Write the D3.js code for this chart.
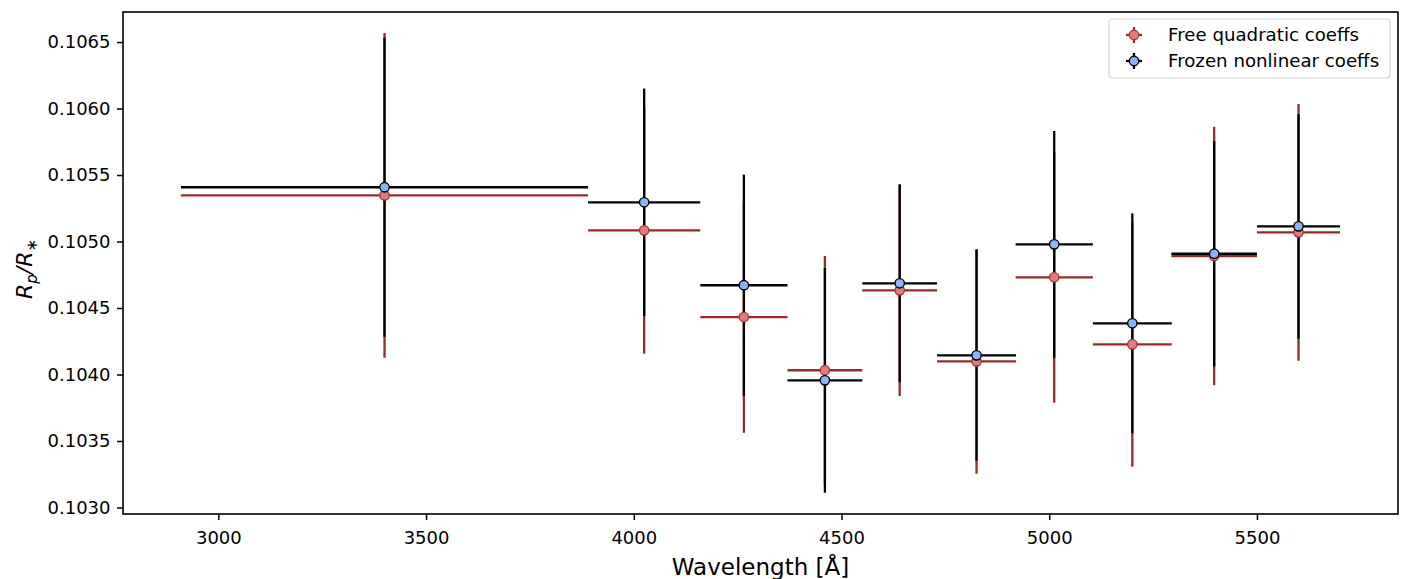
<!DOCTYPE html>
<html>
<head>
<meta charset="utf-8">
<script src="https://cdn.jsdelivr.net/npm/d3@7"></script>
<style>
  body { margin: 0; background: #fff; }
  svg text { font-family: "DejaVu Sans", sans-serif; fill: #000; }
</style>
</head>
<body>
<svg id="chart" width="1406" height="579"></svg>
<script>
// Bin centres and half widths (Angstrom)
const wave = [3400, 4025, 4265, 4460, 4640, 4825, 5012, 5200, 5397, 5600];
const waveErr = [490, 135, 105, 90, 90, 95, 93, 95, 103, 100];

// Free quadratic limb darkening coefficients
const freeRp = [0.105347, 0.105084, 0.104432, 0.104032, 0.104633, 0.104099, 0.104731, 0.104227, 0.104891, 0.105069];
const freeErr = [0.001221, 0.000928, 0.00087, 0.000859, 0.000795, 0.000845, 0.000943, 0.00092, 0.000972, 0.000965];

// Frozen nonlinear limb darkening coefficients
const frozenRp = [0.105408, 0.105295, 0.104671, 0.103956, 0.104686, 0.104144, 0.104979, 0.104385, 0.104908, 0.105114];
const frozenErr = [0.001124, 0.000855, 0.000832, 0.000845, 0.000744, 0.000792, 0.000852, 0.000827, 0.000847, 0.000844];

const xTicks = [3000, 3500, 4000, 4500, 5000, 5500];
const yTicks = [0.1030, 0.1035, 0.1040, 0.1045, 0.1050, 0.1055, 0.1060, 0.1065];

const series = [
    {name: 'Free quadratic coeffs', y: freeRp, err: freeErr, line: '#952b2b', face: '#e07c7c', edge: '#a83838'},
    {name: 'Frozen nonlinear coeffs', y: frozenRp, err: frozenErr, line: '#000000', face: '#8ab4f7', edge: '#000000'}
];

let margin = {left: 123, right: 8, top: 12, bottom: 65},
    width = 1406 - margin.left - margin.right,
    height = 579 - margin.top - margin.bottom;

let svg = d3.select('#chart'),
    g = svg.append('g').attr('transform', `translate(${margin.left},${margin.top})`);

let x = d3.scaleLinear().domain([2770.5, 5839.5]).range([0, width]);
let y = d3.scaleLinear().domain([0.102951, 0.106726]).range([height, 0]);

// Axes
let xAxis = g.append('g')
    .attr('transform', `translate(0,${height})`)
    .call(d3.axisBottom(x).tickValues(xTicks).tickSize(6).tickPadding(11).tickFormat(d3.format('d')));
let yAxis = g.append('g')
    .call(d3.axisLeft(y).tickValues(yTicks).tickSize(6).tickPadding(6.5).tickFormat(d3.format('.4f')));
[xAxis, yAxis].forEach((a) => {
    a.select('.domain').remove();
    a.selectAll('.tick line').attr('stroke', '#000').attr('stroke-width', 1.5);
    a.selectAll('.tick text').style('font-size', '18px');
});

// Error bars: lines of every series first, then markers
series.forEach((s) => {
    let eg = g.append('g');
    eg.selectAll('line.h')
        .data(wave)
        .enter().append('line')
        .attr('x1', (d, i) => x(d - waveErr[i]))
        .attr('x2', (d, i) => x(d + waveErr[i]))
        .attr('y1', (d, i) => y(s.y[i]))
        .attr('y2', (d, i) => y(s.y[i]))
        .attr('stroke', s.line).attr('stroke-width', 2.3);
    eg.selectAll('line.v')
        .data(wave)
        .enter().append('line')
        .attr('x1', (d) => x(d))
        .attr('x2', (d) => x(d))
        .attr('y1', (d, i) => y(s.y[i] - s.err[i]))
        .attr('y2', (d, i) => y(s.y[i] + s.err[i]))
        .attr('stroke', s.line).attr('stroke-width', 2.3);
});
series.forEach((s) => {
    g.append('g').selectAll('circle')
        .data(wave)
        .enter().append('circle')
        .attr('cx', (d) => x(d))
        .attr('cy', (d, i) => y(s.y[i]))
        .attr('r', 4.7)
        .attr('fill', s.face)
        .attr('stroke', s.edge)
        .attr('stroke-width', 1.4);
});

// Frame
g.append('rect')
    .attr('width', width).attr('height', height)
    .attr('fill', 'none').attr('stroke', '#000').attr('stroke-width', 1.6);

// Axis labels
svg.append('text')
    .attr('x', margin.left + width / 2)
    .attr('y', 575)
    .attr('text-anchor', 'middle')
    .style('font-size', '23px')
    .text('Wavelength [Å]');

let yl = svg.append('text')
    .attr('transform', `translate(32,${margin.top + height / 2 + 6}) rotate(-90)`)
    .attr('text-anchor', 'middle')
    .style('font-size', '22px')
    .style('font-style', 'italic');
yl.append('tspan').text('R');
yl.append('tspan').attr('dy', 5).style('font-size', '15px').text('p');
yl.append('tspan').attr('dy', -5).text('/R');
yl.append('tspan').attr('dy', 5).style('font-size', '15px').style('font-style', 'normal').text('∗');

// Legend
let lg = g.append('g').attr('transform', `translate(${width - 289},7)`);
lg.append('rect')
    .attr('width', 281).attr('height', 59).attr('rx', 3)
    .attr('fill', '#fff').attr('stroke', '#d6d6d6').attr('stroke-width', 1.2);
series.forEach((s, i) => {
    let cy = 16 + i * 26, cx = 25;
    let row = lg.append('g');
    row.append('line').attr('x1', cx - 8).attr('x2', cx + 8).attr('y1', cy).attr('y2', cy)
        .attr('stroke', s.line).attr('stroke-width', 2.3);
    row.append('line').attr('x1', cx).attr('x2', cx).attr('y1', cy - 8).attr('y2', cy + 8)
        .attr('stroke', s.line).attr('stroke-width', 2.3);
    row.append('circle').attr('cx', cx).attr('cy', cy).attr('r', 4.7)
        .attr('fill', s.face).attr('stroke', s.edge).attr('stroke-width', 1.4);
    row.append('text').attr('x', 59).attr('y', cy + 6)
        .style('font-size', '18.2px').text(s.name);
});
</script>
</body>
</html>
